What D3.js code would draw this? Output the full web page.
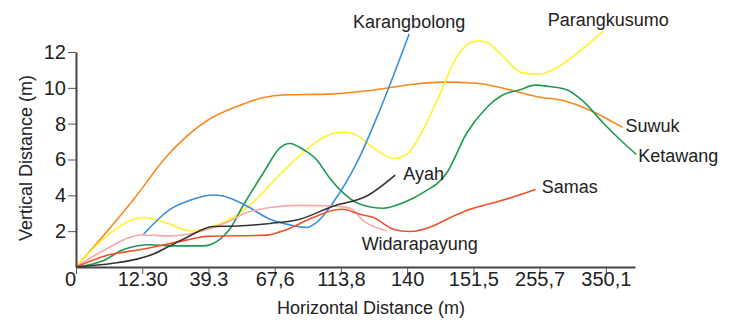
<!DOCTYPE html>
<html>
<head>
    <title>Beach Profiles</title>
    <script src="https://d3js.org/d3.v7.min.js"></script>
    <style>
        body { margin: 0; background: #fff; }
        text { font-family: "Liberation Sans", Arial, sans-serif; fill: #222; }
    </style>
</head>
<body>
    <svg id="profile-chart"></svg>

    <script>
        // x tick labels (positions are evenly spaced, as in the original figure)
        const xTickLabels = ["0", "12.30", "39.3", "67,6", "113,8", "140", "151,5", "255,7", "350,1"];
        const yTicks = [2, 4, 6, 8, 10, 12];

        // series: [position along the x axis (tick index), vertical distance (m)]
        const suwuk = [[0, 0], [0.89, 3.87], [1.37, 6.18], [2.0, 8.22], [2.43, 8.96], [2.8, 9.43], [3.18, 9.61],
            [3.81, 9.65], [4.44, 9.85], [5.09, 10.2], [5.54, 10.32], [6.05, 10.26], [6.45, 9.98], [6.95, 9.52],
            [7.41, 9.24], [7.8, 8.68], [8.25, 7.79]];
        const parangkusumo = [[0, 0], [0.56, 2.02], [1.02, 2.76], [1.14, 2.71], [1.42, 2.39], [1.72, 2.02], [2.02, 2.21],
            [2.27, 2.57], [2.58, 3.32], [3.13, 5.35], [3.61, 6.93], [3.83, 7.39], [4.01, 7.52], [4.19, 7.44],
            [4.49, 6.65], [4.79, 6.06], [4.99, 6.28], [5.24, 7.67], [5.49, 9.61], [5.75, 11.74], [5.9, 12.39],
            [6.05, 12.61], [6.2, 12.54], [6.4, 11.93], [6.75, 10.82], [7.0, 10.76], [7.28, 11.18], [7.66, 12.21],
            [7.96, 13.17]];
        const ketawang = [[0, 0], [0.41, 0.35], [0.71, 0.96], [1.12, 1.24], [1.42, 1.18], [1.92, 1.18], [2.32, 2.11],
            [2.52, 3.41], [2.83, 5.26], [3.08, 6.65], [3.23, 6.89], [3.43, 6.56], [3.63, 6.0], [3.81, 5.07],
            [3.98, 4.33], [4.29, 3.5], [4.64, 3.28], [4.94, 3.59], [5.24, 4.15], [5.6, 5.26], [5.9, 7.48],
            [6.17, 8.78], [6.45, 9.61], [6.7, 9.89], [6.93, 10.15], [7.15, 10.07], [7.41, 9.89], [7.66, 9.24],
            [7.96, 8.04], [8.24, 7.02], [8.46, 6.28]];
        const karangbolong = [[1.02, 1.83], [1.42, 3.22], [1.72, 3.72], [2.07, 4.02], [2.22, 3.96], [2.53, 3.5],
            [2.93, 2.67], [3.23, 2.35], [3.48, 2.21], [3.63, 2.48], [3.88, 3.59], [4.24, 5.82], [4.59, 8.78],
            [5.03, 13.0]];
        const widarapayung = [[0, 0], [0.41, 0.91], [0.99, 1.79], [1.42, 1.74], [1.92, 2.02], [2.27, 2.48],
            [2.58, 3.04], [2.93, 3.32], [3.38, 3.44], [3.83, 3.41], [4.14, 3.28], [4.34, 2.57], [4.69, 2.02]];
        const samas = [[0, 0], [0.41, 0.59], [1.02, 1.0], [1.67, 1.5], [1.97, 1.71], [2.88, 1.78], [3.08, 1.96],
            [3.58, 2.76], [3.88, 3.17], [4.03, 3.22], [4.29, 2.94], [4.49, 2.76], [4.79, 2.11], [5.04, 1.98],
            [5.39, 2.29], [5.6, 2.67], [5.95, 3.22], [6.4, 3.68], [6.94, 4.33]];
        const ayah = [[0, 0], [0.56, 0.21], [0.92, 0.44], [1.17, 0.72], [1.42, 1.18], [1.67, 1.65], [2.07, 2.26],
            [2.43, 2.29], [2.93, 2.43], [3.38, 2.67], [3.88, 3.39], [4.39, 3.96], [4.82, 5.13]];

        const seriesNames = ["Suwuk", "Parangkusumo", "Ketawang", "Karangbolong", "Widarapayung", "Samas", "Ayah"];
        const seriesData = [suwuk, parangkusumo, ketawang, karangbolong, widarapayung, samas, ayah];

        const colors = ["#f7891f", "#fff22a", "#1e9a50", "#3a8fdc", "#f8a9a6", "#f0512a", "#333333"];
        // label placement relative to the last point of each line: [dx, dy, anchor]
        const labelOffsets = [[3, 5, "start"], [5, -5, "middle"], [2, 8, "start"], [0, -6, "middle"],
            [-25, 19, "start"], [6, 4, "start"], [8, 5, "start"]];

        const width = 735;
        const height = 320;

        const svg = d3.select("#profile-chart")
            .attr("width", width)
            .attr("height", height);

        const x = d3.scaleLinear()
            .domain([0, 8.44])
            .range([76, 635]);

        const y = d3.scaleLinear()
            .domain([0, 12])
            .range([267, 52]);

        const line = d3.line()
            .x(d => x(d[0]))
            .y(d => y(d[1]))
            .curve(d3.curveMonotoneX);

        svg.selectAll("path.series")
            .data(seriesData)
            .enter()
            .append("path")
            .attr("class", "series")
            .attr("d", line)
            .attr("fill", "none")
            .attr("stroke", (d, i) => colors[i])
            .attr("stroke-width", 1.6);

        svg.selectAll("text.series-label")
            .data(seriesData)
            .enter()
            .append("text")
            .attr("class", "series-label")
            .attr("x", (d, i) => x(d[d.length - 1][0]) + labelOffsets[i][0])
            .attr("y", (d, i) => y(d[d.length - 1][1]) + labelOffsets[i][1])
            .attr("text-anchor", (d, i) => labelOffsets[i][2])
            .attr("font-size", 18)
            .text((d, i) => seriesNames[i]);

        const xAxis = svg.append("g")
            .attr("transform", `translate(0,${y(0)})`)
            .call(d3.axisBottom(x)
                .tickValues(d3.range(xTickLabels.length))
                .tickFormat(i => xTickLabels[i])
                .tickSize(7)
                .tickSizeOuter(0)
                .tickPadding(-2));

        xAxis.selectAll("text").filter((d, i) => i === 0).attr("dx", -6);

        const yAxis = svg.append("g")
            .attr("transform", `translate(${x(0)},0)`)
            .call(d3.axisLeft(y)
                .tickValues(yTicks)
                .tickSize(8)
                .tickSizeOuter(0)
                .tickPadding(2));

        [xAxis, yAxis].forEach(g => {
            g.select(".domain").attr("stroke", "#444").attr("stroke-width", 2);
            g.selectAll(".tick line").attr("stroke", "#555").attr("stroke-width", 1);
            g.selectAll(".tick text")
                .attr("font-size", 20)
                .attr("fill", "#222")
                .style("font-family", "'Liberation Sans', Arial, sans-serif");
        });

        svg.append("text")
            .attr("x", 371)
            .attr("y", 314)
            .attr("text-anchor", "middle")
            .attr("font-size", 18)
            .text("Horizontal Distance (m)");

        svg.append("text")
            .attr("transform", "translate(32,158) rotate(-90)")
            .attr("text-anchor", "middle")
            .attr("font-size", 18)
            .text("Vertical Distance (m)");
    </script>
</body>
</html>
